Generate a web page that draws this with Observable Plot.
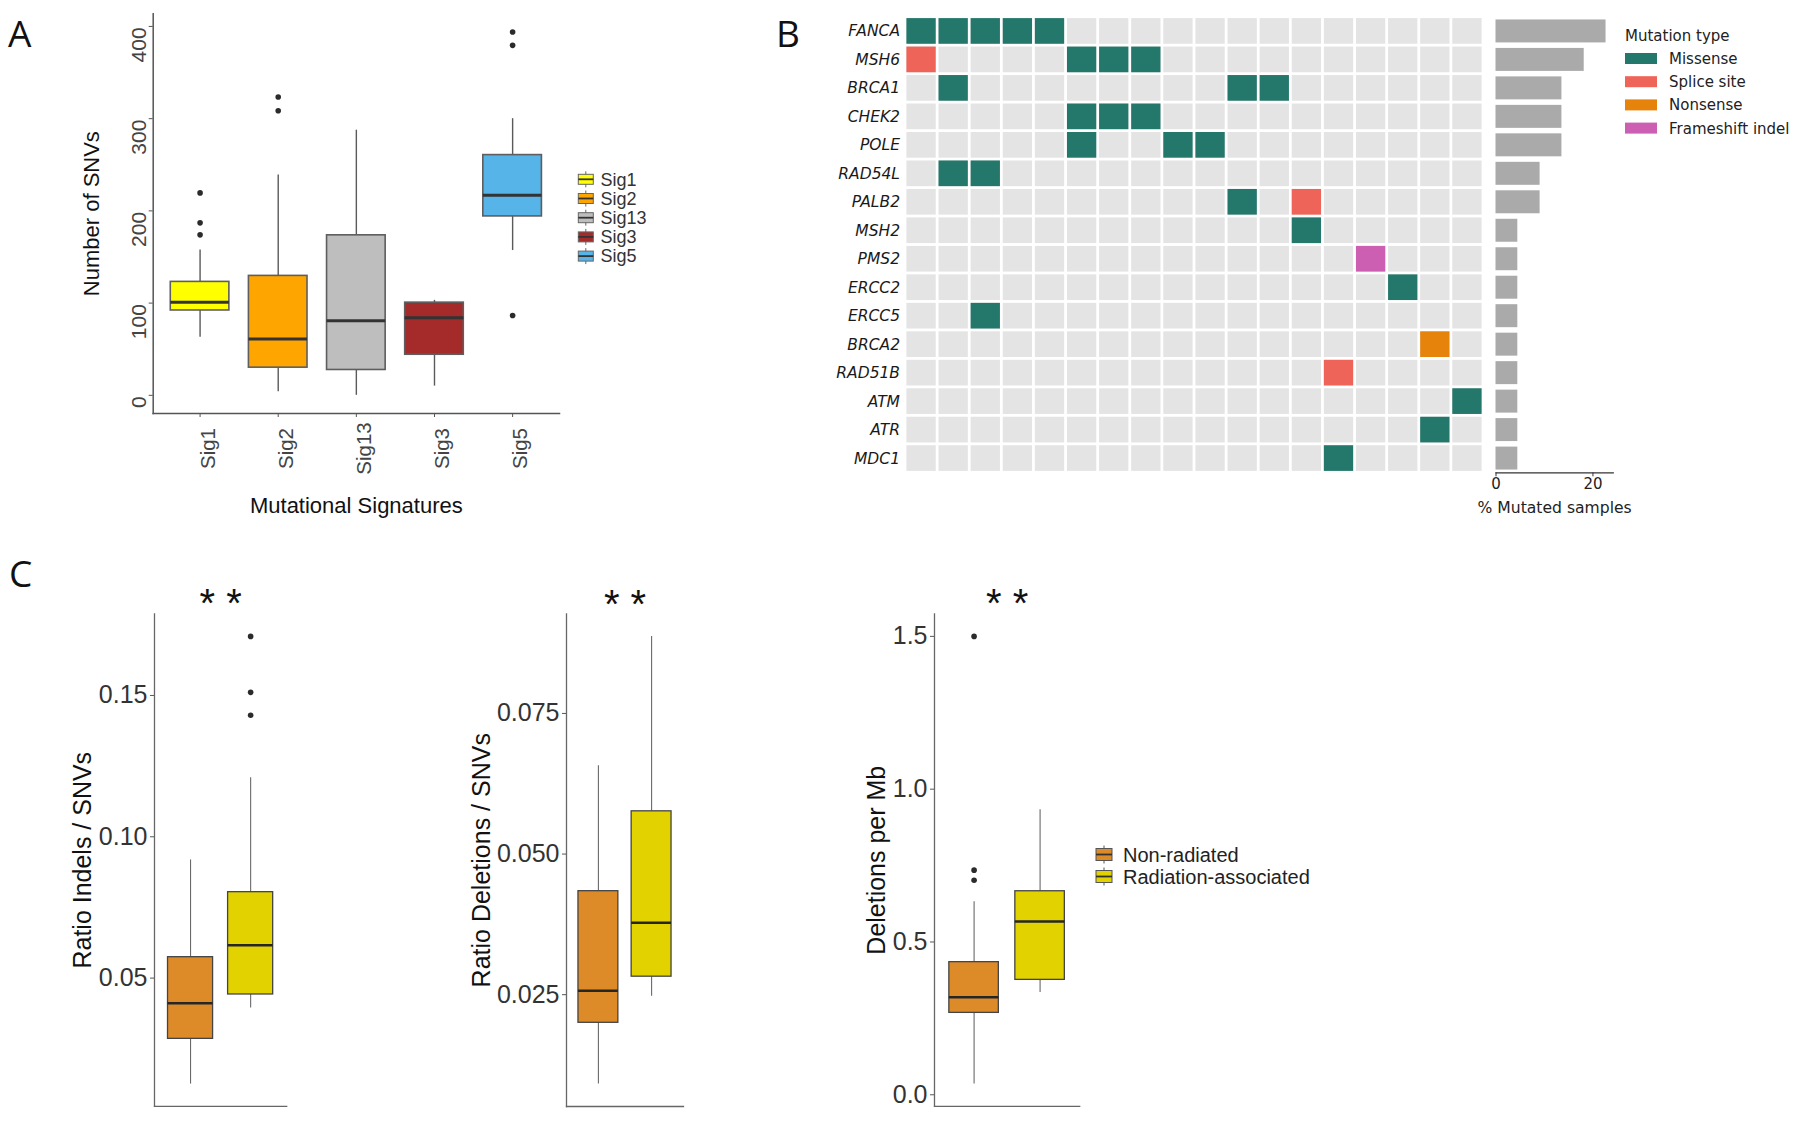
<!DOCTYPE html>
<html>
<head>
<meta charset="utf-8">
<script src="https://cdn.jsdelivr.net/npm/d3@7"></script>
<script src="https://cdn.jsdelivr.net/npm/@observablehq/plot@0.6"></script>
<style>
html, body { margin: 0; padding: 0; background: #fff; }
#fig { position: relative; width: 1800px; height: 1122px; overflow: hidden; background: #fff; }
</style>
</head>
<body>
<div id="fig"></div>
<script>
// ---------------- Panel A data ----------------
const sigs = ["Sig1", "Sig2", "Sig13", "Sig3", "Sig5"];
const sigColors = ["#FFFF00", "#FFA500", "#BEBEBE", "#A52A2A", "#56B4E9"];
const sigLow  = [63, 4, 0, 10, 157];
const sigQ1   = [92, 30, 27.5, 44, 194];
const sigMed  = [101, 61, 81, 84, 217];
const sigQ3   = [123, 129.5, 173.5, 100.5, 260.5];
const sigHigh = [157.5, 239, 287.5, 103, 300];
const sigOutSig = ["Sig1", "Sig1", "Sig1", "Sig2", "Sig2", "Sig5", "Sig5", "Sig5"];
const sigOutVal = [219.5, 187, 174, 323.5, 308.5, 394, 379.5, 86.5];
const snvTicks = [0, 100, 200, 300, 400];

// ---------------- Panel B data ----------------
const genes = ["FANCA", "MSH6", "BRCA1", "CHEK2", "POLE", "RAD54L", "PALB2", "MSH2",
               "PMS2", "ERCC2", "ERCC5", "BRCA2", "RAD51B", "ATM", "ATR", "MDC1"];
const samples = [1, 2, 3, 4, 5, 6, 7, 8, 9, 10, 11, 12, 13, 14, 15, 16, 17, 18];
const mutTypes = ["Missense", "Splice site", "Nonsense", "Frameshift indel"];
const mutColors = ["#23786B", "#EF6458", "#E5830A", "#CC5FB2"];
const mutations = [
  ["FANCA", 1, "Missense"], ["FANCA", 2, "Missense"], ["FANCA", 3, "Missense"], ["FANCA", 4, "Missense"], ["FANCA", 5, "Missense"],
  ["MSH6", 1, "Splice site"], ["MSH6", 6, "Missense"], ["MSH6", 7, "Missense"], ["MSH6", 8, "Missense"],
  ["BRCA1", 2, "Missense"], ["BRCA1", 11, "Missense"], ["BRCA1", 12, "Missense"],
  ["CHEK2", 6, "Missense"], ["CHEK2", 7, "Missense"], ["CHEK2", 8, "Missense"],
  ["POLE", 6, "Missense"], ["POLE", 9, "Missense"], ["POLE", 10, "Missense"],
  ["RAD54L", 2, "Missense"], ["RAD54L", 3, "Missense"],
  ["PALB2", 11, "Missense"], ["PALB2", 13, "Splice site"],
  ["MSH2", 13, "Missense"],
  ["PMS2", 15, "Frameshift indel"],
  ["ERCC2", 16, "Missense"],
  ["ERCC5", 3, "Missense"],
  ["BRCA2", 17, "Nonsense"],
  ["RAD51B", 14, "Splice site"],
  ["ATM", 18, "Missense"],
  ["ATR", 17, "Missense"],
  ["MDC1", 14, "Missense"]
];
const pctMutated = [22.7, 18.2, 13.6, 13.6, 13.6, 9.1, 9.1, 4.5, 4.5, 4.5, 4.5, 4.5, 4.5, 4.5, 4.5, 4.5];
const pctTicks = [0, 20];

// ---------------- Panel C data ----------------
const groups = ["Non-radiated", "Radiation-associated"];
const groupColors = ["#DD8A28", "#E2D300"];
// Ratio Indels / SNVs
const indelLow = [0.0125, 0.0394], indelQ1 = [0.0285, 0.0442], indelMed = [0.0411, 0.0616],
      indelQ3 = [0.0574, 0.0804], indelHigh = [0.0918, 0.1209];
const indelOutGroup = ["Radiation-associated", "Radiation-associated", "Radiation-associated"];
const indelOutVal = [0.1709, 0.1511, 0.1430];
const indelTicks = [0.05, 0.10, 0.15];
// Ratio Deletions / SNVs
const delLow = [0.0091, 0.0247], delQ1 = [0.0200, 0.0282], delMed = [0.0257, 0.0378],
      delQ3 = [0.0434, 0.0576], delHigh = [0.0657, 0.0887];
const delOutGroup = [], delOutVal = [];
const delTicks = [0.025, 0.050, 0.075];
// Deletions per Mb
const mbLow = [0.035, 0.335], mbQ1 = [0.268, 0.376], mbMed = [0.319, 0.567],
      mbQ3 = [0.434, 0.666], mbHigh = [0.632, 0.933];
const mbOutGroup = ["Non-radiated", "Non-radiated", "Non-radiated"];
const mbOutVal = [1.5, 0.735, 0.702];
const mbTicks = [0, 0.5, 1.0, 1.5];
const signifLabel = "* *";

// ---------------- helpers ----------------
const FIG = document.getElementById("fig");
const SANS = "Liberation Sans, Arial, Helvetica, sans-serif";
const DJV = "DejaVu Sans, sans-serif";
function place(el, left, top) {
  el.style.position = "absolute";
  el.style.left = left + "px";
  el.style.top = top + "px";
  FIG.appendChild(el);
}
function expand(vals) {
  const lo = d3.min(vals), hi = d3.max(vals), p = 0.05 * (hi - lo);
  return [lo - p, hi + p];
}
const plotStyle = {background: "transparent", overflow: "visible", fontFamily: SANS, maxWidth: "none"};

// ---------------- Panel A ----------------
{
  const boxA = sigs.map((g, i) => ({g, lo: sigLow[i], q1: sigQ1[i], med: sigMed[i], q3: sigQ3[i], hi: sigHigh[i]}));
  const outA = sigOutSig.map((g, i) => ({g, v: sigOutVal[i]}));
  const L = 0, T = 0, W = 700, H = 540, fl = 152.7, fr = 559, ft = 13.3, fb = 413;
  const p = Plot.plot({
    width: W, height: H,
    marginLeft: fl - L, marginRight: L + W - fr, marginTop: ft - T, marginBottom: T + H - fb,
    style: plotStyle,
    x: {type: "band", domain: sigs, paddingInner: 0.25, paddingOuter: 0.225, round: false, label: null},
    y: {domain: expand([...sigLow, ...sigHigh, ...sigOutVal]), label: null},
    color: {domain: sigs, range: sigColors},
    marks: [
      Plot.ruleX(boxA, {x: "g", y1: "lo", y2: "q1", stroke: "#5a5a5a", strokeWidth: 1.4}),
      Plot.ruleX(boxA, {x: "g", y1: "q3", y2: "hi", stroke: "#5a5a5a", strokeWidth: 1.4}),
      Plot.barY(boxA, {x: "g", y1: "q1", y2: "q3", fill: "g", stroke: "#5e5e5e", strokeWidth: 1.6}),
      Plot.tickY(boxA, {x: "g", y: "med", stroke: "#333", strokeWidth: 3}),
      Plot.dot(outA, {x: "g", y: "v", r: 2.8, fill: "#2b2b2b"}),
      Plot.frame({anchor: "left", stroke: "#555", strokeWidth: 1.5}),
      Plot.frame({anchor: "bottom", stroke: "#555", strokeWidth: 1.5}),
      Plot.axisY(snvTicks, {tickSize: 4, tickFormat: () => "", stroke: "#555", label: null}),
      Plot.axisX({tickSize: 4, tickFormat: () => "", stroke: "#555", label: null}),
      Plot.text(snvTicks, {y: d => d, text: d => String(d), frameAnchor: "left", dx: -7.4, dy: 1, rotate: -90,
        textAnchor: "end", lineAnchor: "bottom", fontSize: 21, fontFamily: SANS, fill: "#444"}),
      Plot.text(sigs, {x: d => d, text: d => d, frameAnchor: "bottom", dy: 35, rotate: -90,
        textAnchor: "middle", lineAnchor: "top", fontSize: 20.5, fontFamily: SANS, fill: "#444"}),
      Plot.text(["Number of SNVs"], {text: d => d, frameAnchor: "left", dx: -61, rotate: -90,
        textAnchor: "middle", lineAnchor: "middle", fontSize: 22, fontFamily: SANS, fill: "#111"}),
      Plot.text(["Mutational Signatures"], {text: d => d, frameAnchor: "bottom", dy: 92,
        textAnchor: "middle", lineAnchor: "middle", fontSize: 22, fontFamily: SANS, fill: "#111"})
    ]
  });
  place(p, L, T);
}

// ---------------- Panel B: oncoprint grid ----------------
{
  const L = 780, T = 0, W = 705, H = 500, fl = 905, fr = 1483, ft = 16.7, fb = 472.3;
  const p = Plot.plot({
    width: W, height: H,
    marginLeft: fl - L, marginRight: L + W - fr, marginTop: ft - T, marginBottom: T + H - fb,
    style: plotStyle,
    x: {type: "band", domain: samples, padding: 0, round: false, axis: null},
    y: {type: "band", domain: genes, padding: 0, round: false, axis: null},
    color: {domain: mutTypes, range: mutColors},
    marks: [
      Plot.cell(d3.cross(genes, samples), {x: d => d[1], y: d => d[0], fill: "#E4E4E4", inset: 1.4}),
      Plot.cell(mutations, {x: d => d[1], y: d => d[0], fill: d => d[2], inset: 1.4}),
      Plot.text(genes, {y: d => d, text: d => d, frameAnchor: "left", dx: -5.5, textAnchor: "end",
        fontStyle: "italic", fontSize: 15.5, fontFamily: DJV, fill: "#1a1a1a"})
    ]
  });
  place(p, L, T);
}

// ---------------- Panel B: % mutated bars ----------------
{
  const L = 1488, T = 0, W = 135, H = 540, fl = 1495.5, fr = 1612.8, ft = 16.7, fb = 472.3;
  const bars = genes.map((g, i) => ({g, p: pctMutated[i]}));
  const p = Plot.plot({
    width: W, height: H,
    marginLeft: fl - L, marginRight: L + W - fr, marginTop: ft - T, marginBottom: T + H - fb,
    style: plotStyle,
    x: {domain: [0, 24.2], label: null},
    y: {type: "band", domain: genes, padding: 0, round: false, axis: null},
    marks: [
      Plot.barX(bars, {x: "p", y: "g", fill: "#AAAAAA", insetTop: 2.75, insetBottom: 2.75}),
      Plot.frame({anchor: "bottom", stroke: "#333", strokeWidth: 1.2}),
      Plot.axisX(pctTicks, {tickSize: 4, tickPadding: 2, fontSize: 15, fontFamily: DJV, stroke: "#333", fill: "#222", label: null}),
      Plot.text(["% Mutated samples"], {text: d => d, frameAnchor: "bottom", dy: 35.3,
        textAnchor: "middle", lineAnchor: "middle", fontSize: 15.6, fontFamily: DJV, fill: "#222"})
    ]
  });
  place(p, L, T);
}

// ---------------- Panel C ----------------
function panelC(cfg) {
  const box = groups.map((g, i) => ({g, lo: cfg.low[i], q1: cfg.q1[i], med: cfg.med[i], q3: cfg.q3[i], hi: cfg.high[i]}));
  const out = cfg.outGroup.map((g, i) => ({g, v: cfg.outVal[i]}));
  const fl = cfg.axisX, fr = cfg.rightX, ft = 613.5, fb = 1106;
  const L = fl - 125, T = 560, W = fr - L + 10, H = 560;
  const p = Plot.plot({
    width: W, height: H,
    marginLeft: fl - L, marginRight: L + W - fr, marginTop: ft - T, marginBottom: T + H - fb,
    style: plotStyle,
    x: {type: "band", domain: groups, paddingInner: 0.25, paddingOuter: 0.225, round: false, axis: null},
    y: {domain: expand([...cfg.low, ...cfg.high, ...cfg.outVal]), label: null},
    color: {domain: groups, range: groupColors},
    marks: [
      Plot.ruleX(box, {x: "g", y1: "lo", y2: "q1", stroke: "#6a6a6a", strokeWidth: 1.1}),
      Plot.ruleX(box, {x: "g", y1: "q3", y2: "hi", stroke: "#6a6a6a", strokeWidth: 1.1}),
      Plot.barY(box, {x: "g", y1: "q1", y2: "q3", fill: "g", stroke: "#444", strokeWidth: 1.3}),
      Plot.tickY(box, {x: "g", y: "med", stroke: "#262626", strokeWidth: 2.6}),
      Plot.dot(out, {x: "g", y: "v", r: 2.8, fill: "#2b2b2b"}),
      Plot.frame({anchor: "left", stroke: "#666", strokeWidth: 1.3}),
      Plot.frame({anchor: "bottom", stroke: "#666", strokeWidth: 1.3}),
      Plot.axisY(cfg.ticks, {tickSize: 4, tickPadding: 3, tickFormat: d3.format(cfg.fmt), fontSize: 25,
        fontFamily: SANS, stroke: "#555", fill: "#333", label: null}),
      Plot.text([cfg.title], {text: d => d, frameAnchor: "left", dx: cfg.titleX - fl, rotate: -90,
        textAnchor: "middle", lineAnchor: "middle", fontSize: 25, fontFamily: SANS, fill: "#111"}),
      Plot.text([signifLabel], {text: d => d, frameAnchor: "top", dy: 3.5,
        textAnchor: "middle", lineAnchor: "bottom", fontSize: 40, fontFamily: SANS, fill: "#111"})
    ]
  });
  place(p, L, T);
}
panelC({axisX: 154.3, rightX: 286.5, titleX: 83.3, title: "Ratio Indels / SNVs", fmt: ".2f", ticks: indelTicks,
  low: indelLow, q1: indelQ1, med: indelMed, q3: indelQ3, high: indelHigh, outGroup: indelOutGroup, outVal: indelOutVal});
panelC({axisX: 565.8, rightX: 682.8, titleX: 481, title: "Ratio Deletions / SNVs", fmt: ".3f", ticks: delTicks,
  low: delLow, q1: delQ1, med: delMed, q3: delQ3, high: delHigh, outGroup: delOutGroup, outVal: delOutVal});
panelC({axisX: 934.4, rightX: 1079.6, titleX: 876.5, title: "Deletions per Mb", fmt: ".1f", ticks: mbTicks,
  low: mbLow, q1: mbQ1, med: mbMed, q3: mbQ3, high: mbHigh, outGroup: mbOutGroup, outVal: mbOutVal});

// ---------------- Overlay: panel letters and legends ----------------
{
  const ov = d3.create("svg").attr("width", 1800).attr("height", 1122)
    .style("position", "absolute").style("left", "0px").style("top", "0px").style("pointer-events", "none");
  const letters = [["A", 8, 47], ["B", 776, 47], ["C", 9, 587]];
  ov.selectAll("text.panel").data(letters).join("text").attr("class", "panel")
    .attr("x", d => d[1]).attr("y", d => d[2]).text(d => d[0])
    .attr("font-family", "Open Sans, Liberation Sans, sans-serif").attr("font-size", 37).attr("fill", "#111");

  function boxKey(g, x, cy, w, h, fill, stroke) {
    g.append("line").attr("x1", x + w / 2).attr("x2", x + w / 2).attr("y1", cy - h / 2 - 3).attr("y2", cy + h / 2 + 3)
      .attr("stroke", stroke).attr("stroke-width", 1);
    g.append("rect").attr("x", x).attr("y", cy - h / 2).attr("width", w).attr("height", h)
      .attr("fill", fill).attr("stroke", stroke).attr("stroke-width", 1);
    g.append("line").attr("x1", x).attr("x2", x + w).attr("y1", cy).attr("y2", cy)
      .attr("stroke", "#333").attr("stroke-width", 1.8);
  }
  // Legend A
  const la = ov.append("g");
  sigs.forEach((s, i) => {
    const cy = 179.3 + i * 19.2;
    boxKey(la, 578.3, cy, 15, 10, sigColors[i], "#666");
    la.append("text").attr("x", 600.5).attr("y", cy).attr("dy", "0.35em").text(s)
      .attr("font-family", SANS).attr("font-size", 18).attr("fill", "#333");
  });
  // Legend B
  const lb = ov.append("g");
  lb.append("text").attr("x", 1625).attr("y", 35.4).attr("dy", "0.36em").text("Mutation type")
    .attr("font-family", DJV).attr("font-size", 15).attr("fill", "#222");
  mutTypes.forEach((t, i) => {
    const cy = 58.5 + i * 23.2;
    lb.append("rect").attr("x", 1625).attr("y", cy - 5.5).attr("width", 32).attr("height", 11).attr("fill", mutColors[i]);
    lb.append("text").attr("x", 1669).attr("y", cy).attr("dy", "0.36em").text(t)
      .attr("font-family", DJV).attr("font-size", 15).attr("fill", "#222");
  });
  // Legend C
  const lc = ov.append("g");
  groups.forEach((g, i) => {
    const cy = 854.5 + i * 22;
    boxKey(lc, 1096, cy, 16, 12, groupColors[i], "#555");
    lc.append("text").attr("x", 1123).attr("y", cy).attr("dy", "0.35em").text(g)
      .attr("font-family", SANS).attr("font-size", 20).attr("fill", "#222");
  });
  FIG.appendChild(ov.node());
}
</script>
</body>
</html>
